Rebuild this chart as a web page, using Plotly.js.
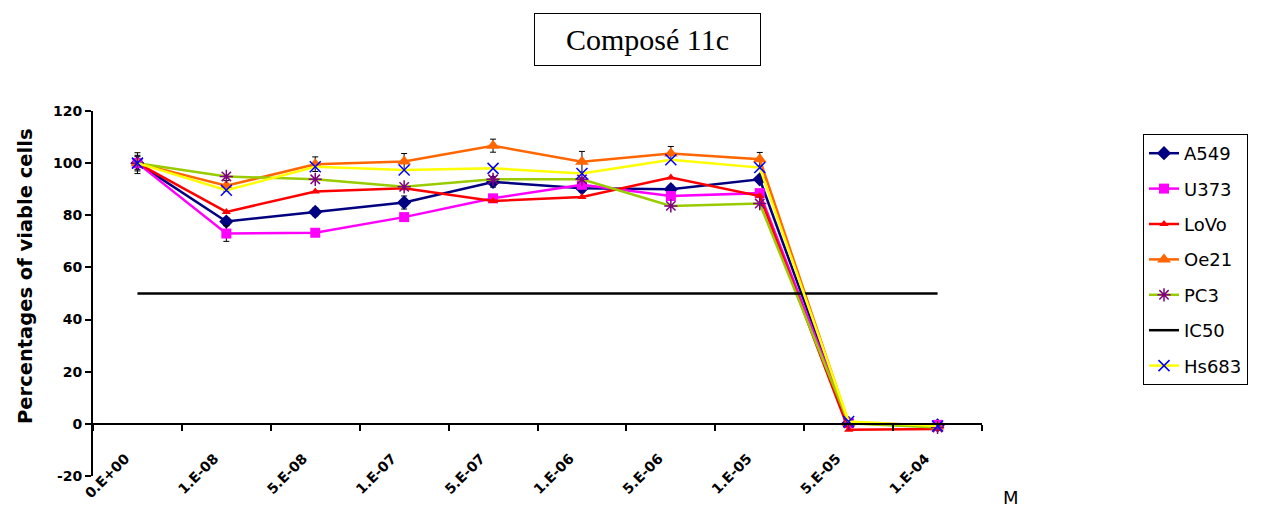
<!DOCTYPE html>
<html>
<head>
<meta charset="utf-8">
<script src="https://cdn.plot.ly/plotly-3.0.1.min.js"></script>
<style>html,body{margin:0;padding:0;background:#fff;}#chart{width:1262px;height:507px;}</style>
</head>
<body>
<div id="chart"></div>
<script>
const concentrations = ["0.E+00","1.E-08","5.E-08","1.E-07","5.E-07","1.E-06","5.E-06","1.E-05","5.E-05","1.E-04"];
const A549  = [100, 77.6, 81.3, 84.9, 92.8, 90.4, 90.0, 93.8, 0.3, -0.6];
const U373  = [100, 73.0, 73.3, 79.3, 86.5, 91.7, 87.4, 88.5, 0.3, -0.4];
const LoVo  = [100, 81.3, 89.1, 90.4, 85.5, 87.0, 94.5, 87.4, -2.3, -2.0];
const Oe21  = [100, 91.3, 99.6, 100.6, 106.7, 100.5, 103.7, 101.5, 0.3, -1.0];
const PC3   = [100, 94.9, 93.8, 90.9, 93.8, 93.8, 83.6, 84.5, 0.2, -1.4];
const IC50  = [50, 50, 50, 50, 50, 50, 50, 50, 50, 50];
const Hs683 = [100, 89.6, 98.6, 97.4, 98.0, 96.0, 101.3, 98.3, 0.9, -0.8];
const errA549 = [2.5, 1.5, 1.5, 2.5, 2.0, 1.5, 1.5, 1.0, 0, 0];
const errU373 = [3.0, 3.0, 1.0, 1.0, 1.0, 1.0, 1.0, 1.0, 0, 0];
const errOe21 = [4.0, 2.0, 2.8, 3.1, 2.5, 4.0, 2.7, 2.6, 0, 0];
const yTickVals = [-20, 0, 20, 40, 60, 80, 100, 120];
const yTickText = ["-20", "0", "20", "40", "60", "80", "100", "120"];

const lw = 2.5;
function err(a){return {type:'data', array:a, visible:true, color:'#000', thickness:1, width:3};}
const traces = [
  {name:'A549', x:concentrations, y:A549, error_y:err(errA549), mode:'lines+markers', legendgroup:'a',
   line:{color:'#000080', width:lw}, marker:{symbol:'diamond', size:11, color:'#000080'}},
  {name:'U373', x:concentrations, y:U373, error_y:err(errU373), mode:'lines+markers', legendgroup:'b',
   line:{color:'#FF00FF', width:lw}, marker:{symbol:'square', size:10, color:'#FF00FF'}},
  {name:'LoVo', x:concentrations, y:LoVo, mode:'lines+markers', legendgroup:'c',
   line:{color:'#FF0000', width:lw}, marker:{symbol:'triangle-up', size:8, color:'#FF0000'}},
  {name:'Oe21', x:concentrations, y:Oe21, error_y:err(errOe21), mode:'lines+markers', legendgroup:'d',
   line:{color:'#FF6600', width:lw}, marker:{symbol:'triangle-up', size:12, color:'#FF6600'}},
  {name:'PC3', x:concentrations, y:PC3, mode:'lines+markers', legendgroup:'e',
   line:{color:'#99CC00', width:lw}, marker:{symbol:'asterisk-open', size:11, color:'#800080', line:{color:'#800080', width:1.5}}},
  {name:'IC50', x:concentrations, y:IC50, mode:'lines', legendgroup:'f',
   line:{color:'#000000', width:lw}},
  {name:'Hs683', x:concentrations, y:Hs683, mode:'lines+markers', legendgroup:'g',
   line:{color:'#FFFF00', width:lw}, marker:{symbol:'x-thin-open', size:11, color:'#0000FF', line:{color:'#0000FF', width:1.5}}}
];

const boldFont = '"DejaVu Sans", Arial, sans-serif';
const tickFont = {family:boldFont, size:14, color:'#000', weight:'bold'};
const layout = {
  width:1262, height:507,
  margin:{l:93, r:280, t:111, b:31},
  paper_bgcolor:'#fff', plot_bgcolor:'#fff',
  showlegend:true,
  legend:{x:(1143-93)/889, y:(476-134)/365, xanchor:'left', yanchor:'top', bordercolor:'#000', borderwidth:1,
          font:{family:'"DejaVu Sans", Arial, sans-serif', size:18, color:'#000'},
          traceorder:'grouped', tracegroupgap:9, bgcolor:'#fff', itemwidth:30},
  xaxis:{type:'category', range:[-0.5, 9.5], anchor:'free', position:20/140,
         showline:true, linecolor:'#000', linewidth:2, showgrid:false, zeroline:false,
         ticks:'outside', tickson:'boundaries', ticklen:6, tickwidth:2, tickcolor:'#000',
         tickangle:-45, tickfont:tickFont, ticklabelstandoff:20, ticklabelshift:-12,
         automargin:false, fixedrange:true},
  yaxis:{range:[-20, 120], tickmode:'array', tickvals:yTickVals, ticktext:yTickText,
         showline:true, linecolor:'#000', linewidth:2,
         showgrid:false, zeroline:false, ticks:'outside', ticklen:6, tickwidth:2, tickcolor:'#000',
         tickfont:tickFont, automargin:false},
  annotations:[
    {text:'Composé 11c', xref:'paper', yref:'paper', x:(647.5-93)/889, y:(476-39.5)/365, xanchor:'center', yanchor:'middle',
     showarrow:false, font:{family:'"Times New Roman", "Liberation Serif", serif', size:30, color:'#000'},
     bordercolor:'#000', borderwidth:1, borderpad:0, width:225, height:51, bgcolor:'#fff'},
    {text:'Percentages of viable cells', xref:'paper', yref:'paper', x:(25-93)/889, y:(476-276)/365,
     xanchor:'center', yanchor:'middle', textangle:-90, showarrow:false,
     font:{family:boldFont, size:19.5, color:'#000', weight:'bold'}},
    {text:'M', xref:'paper', yref:'paper', x:(1011-93)/889, y:(476-497)/365, xanchor:'center', yanchor:'middle',
     showarrow:false, font:{family:'"DejaVu Sans", Arial, sans-serif', size:18, color:'#000'}}
  ]
};
Plotly.newPlot('chart', traces, layout, {displayModeBar:false, staticPlot:true});
</script>
</body>
</html>
